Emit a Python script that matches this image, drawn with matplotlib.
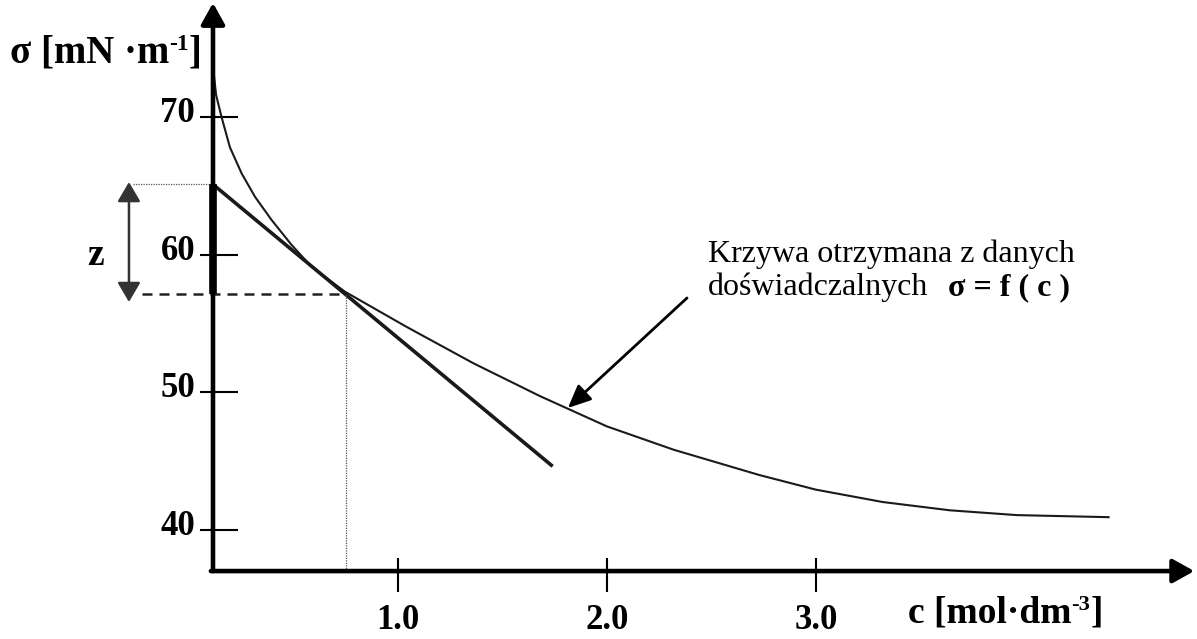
import numpy as np
import matplotlib
matplotlib.use('Agg')
import matplotlib.pyplot as plt

plt.rcParams['font.family'] = ['Liberation Serif', 'DejaVu Serif']

curve_c = [0.117, 0.13, 0.156, 0.196, 0.252, 0.316, 0.396, 0.491, 0.587,
           0.746, 1.04, 1.36, 1.68, 2.0, 2.32, 2.73, 3.0, 3.32, 3.64, 3.96, 4.4]
curve_s = [73.4, 71.6, 70.0, 67.8, 65.9, 64.2, 62.5, 60.7, 59.1,
           57.3, 54.75, 52.1, 49.7, 47.5, 45.8, 43.96, 42.9, 42.0, 41.4, 41.05, 40.9]

# tangent line at the chosen point
tangent_c = [0.115, 1.74]
tangent_s = [65.1, 44.6]
point_c = 0.75
point_s = 57.1

x_ticks = [1.0, 2.0, 3.0]
y_ticks = [40, 50, 60, 70]

x_label = ['c [mol·dm', '-3', ']']
y_label = ['σ [mN ·m', '-1', ']']
note_1 = 'Krzywa otrzymana z danych'
note_2 = 'doświadczalnych'
note_3 = 'σ = f ( c )'

# axis origin
x0 = 0.115
y0 = 36.98


def unit_label(ax, x, y, parts, size):
    # text with a superscript, then closing bracket
    t = ax.text(x, y, parts[0], va='baseline', fontsize=size, fontweight='bold')
    s = ax.annotate(parts[1], xy=(1, 1), xycoords=t, va='top', ha='left',
                    fontsize=size * 0.6, fontweight='bold')
    ax.annotate(parts[2], xy=(1, 0), xycoords=(s, t), va='bottom', ha='left',
                fontsize=size, fontweight='bold')


def main():

    fig = plt.figure(figsize=(11.97, 6.39), dpi=100)
    ax = fig.add_axes([0, 0, 1, 1])
    ax.set_xlim(-0.904, 4.823)
    ax.set_ylim(32.04, 78.51)
    ax.axis('off')

    # AXES WITH ARROWS
    head = '-|>,head_length=0.9,head_width=0.5'
    ax.annotate('', xy=(x0, 78.3), xytext=(x0, y0),
                arrowprops=dict(arrowstyle=head, lw=3.3, color='black',
                                mutation_scale=14.4, shrinkA=0, shrinkB=0))
    ax.annotate('', xy=(4.81, y0), xytext=(x0 - 0.01, y0),
                arrowprops=dict(arrowstyle=head, lw=3.3, color='black',
                                mutation_scale=14.4, shrinkA=0, shrinkB=0))

    # ticks
    ax.hlines(y_ticks, 0.055, 0.235, color='black', lw=1.5)
    ax.vlines(x_ticks, 35.45, 37.93, color='black', lw=1.5)
    for v in y_ticks:
        ax.text(0.03, v + 0.25, f'{v}', ha='right', va='center',
                fontsize=25, fontweight='bold')
    for t in x_ticks:
        ax.text(t, 32.76, f'{t:.1f}', ha='center', va='baseline',
                fontsize=25, fontweight='bold')

    unit_label(ax, -0.856, 74.0, y_label, 28)
    unit_label(ax, 3.44, 33.27, x_label, 27)

    # CURVE AND TANGENT
    ax.plot(curve_c, curve_s, color='#1a1a1a', lw=1.5, solid_joinstyle='round')
    ax.plot(tangent_c, tangent_s, color='#1a1a1a', lw=2.6, solid_capstyle='butt')

    # thick part of the y axis = z
    ax.plot([x0, x0], [point_s, tangent_s[0]], color='black', lw=5.5,
            solid_capstyle='butt')

    # helper lines
    ax.plot([-0.225, point_c], [point_s, point_s], color='#222222', lw=1.8,
            linestyle=(0, (4, 2.8)))
    ax.plot([point_c, point_c], [y0, point_s], color='#555555', lw=0.9,
            linestyle=(0, (1, 1)))
    ax.plot([-0.268, x0], [tangent_s[0], tangent_s[0]], color='#555555', lw=0.9,
            linestyle=(0, (1, 1)))

    # z arrow
    ax.annotate('', xy=(-0.287, 65.27), xytext=(-0.287, 56.55),
                arrowprops=dict(arrowstyle='<|-|>,head_length=0.85,head_width=0.5',
                                lw=1.8, color='#333333', mutation_scale=14,
                                shrinkA=0, shrinkB=0))
    ax.text(-0.445, 59.9, 'z', ha='center', va='center', fontsize=27,
            fontweight='bold')

    # note with arrow
    ax.annotate('', xy=(1.813, 48.84), xytext=(2.383, 56.84),
                arrowprops=dict(arrowstyle='-|>,head_length=1.0,head_width=0.45',
                                lw=2.0, color='black', mutation_scale=14,
                                shrinkA=0, shrinkB=0))
    ax.text(2.483, 59.45, note_1, va='baseline', fontsize=23)
    ax.text(2.483, 57.05, note_2, va='baseline', fontsize=23)
    ax.text(3.63, 57.05, note_3, va='baseline', fontsize=23, fontweight='bold')

    plt.savefig('out.png', dpi=100)
    plt.close()


if __name__ == "__main__":
    main()
